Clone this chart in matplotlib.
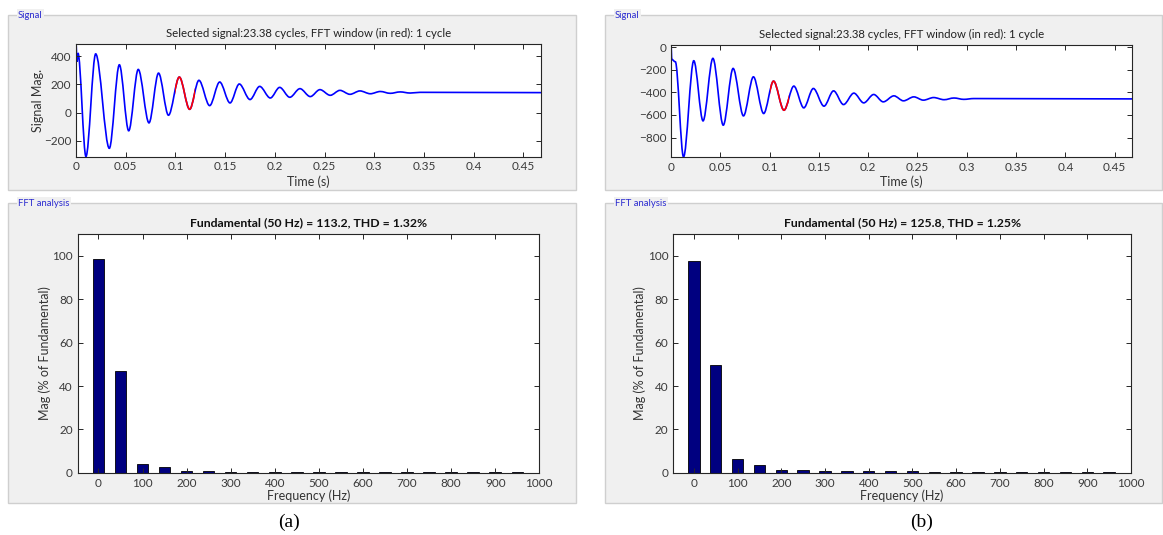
import matplotlib
matplotlib.use('Agg')
import matplotlib.pyplot as plt
import numpy as np
from matplotlib.path import Path
from matplotlib.patches import PathPatch, Rectangle

plt.rcParams['font.family'] = ['Lato', 'DejaVu Sans']

W, H = 1163, 535

# signal (a): peaks / troughs (time s, value)
t_a = [0, 0.001, 0.002, 0.0100, 0.0198, 0.0335, 0.0436, 0.0530, 0.0626, 0.0734,
       0.0830, 0.0930, 0.1039, 0.1143, 0.1236, 0.1344, 0.1445, 0.1549, 0.1642,
       0.1750, 0.1847, 0.1954, 0.2048, 0.2150, 0.2252, 0.2356, 0.2453, 0.2557,
       0.2654, 0.2755, 0.2855, 0.296, 0.306, 0.316, 0.326, 0.336, 0.346, 0.4676]
v_a = [485, 360, 420, -311, 415, -253, 338, -129, 305, -73,
       279, -19, 251, 23, 228, 49, 216, 68, 202,
       92, 185, 103, 178, 108, 169, 113, 162, 122,
       157, 129, 153, 133, 149, 136, 146, 138, 143, 141]

# signal (b)
t_b = [0, 0.0008, 0.0044, 0.0127, 0.0231, 0.0325, 0.0425, 0.0530, 0.0630, 0.0735,
       0.0836, 0.0940, 0.1040, 0.1146, 0.1246, 0.1347, 0.1444, 0.1552, 0.1649,
       0.1750, 0.1855, 0.1955, 0.2056, 0.2153, 0.2261, 0.2358, 0.2463, 0.2560,
       0.2664, 0.277, 0.287, 0.297, 0.307, 0.4676]
v_b = [18, -110, -130, -971, -121, -652, -100, -690, -189, -608,
       -263, -587, -301, -558, -345, -537, -366, -522, -387,
       -508, -407, -493, -419, -484, -431, -475, -440, -469,
       -446, -465, -450, -462, -455, -458]

fft_window = (0.10, 0.12)
t_end = 0.4676

harmonics = [0, 50, 100, 150, 200, 250, 300, 350, 400, 450,
             500, 550, 600, 650, 700, 750, 800, 850, 900, 950]
mag_a = [98.6, 46.8, 4.2, 2.4, 1.0, 0.9, 0.5, 0.3, 0.5, 0.3,
         0.5, 0.3, 0.4, 0.3, 0.4, 0.3, 0.4, 0.3, 0.4, 0.3]
mag_b = [97.7, 49.5, 6.4, 3.4, 1.4, 1.4, 1.0, 0.9, 1.0, 0.9,
         1.0, 0.5, 0.5, 0.5, 0.5, 0.5, 0.5, 0.5, 0.5, 0.5]

sig_title = 'Selected signal:23.38 cycles, FFT window (in red): 1 cycle'
fft_title_a = 'Fundamental (50 Hz) = 113.2, THD = 1.32%'
fft_title_b = 'Fundamental (50 Hz) = 125.8, THD = 1.25%'


def box(x0, y0, x1, y1):
    return [x0 / W, 1 - y1 / H, (x1 - x0) / W, (y1 - y0) / H]


def smooth_path(t, v):
    # cubic segments with flat tangents at each peak / trough
    verts = [(t[0], v[0])]
    codes = [Path.MOVETO]
    for i in range(1, len(t)):
        dt = t[i] - t[i - 1]
        verts += [(t[i - 1] + dt / 3, v[i - 1]), (t[i] - dt / 3, v[i]), (t[i], v[i])]
        codes += [Path.CURVE4] * 3
    return Path(verts, codes)


def style_axes(ax):
    ax.set_facecolor('white')
    ax.tick_params(direction='in', top=True, right=True, length=3.5, width=0.7,
                   labelsize=8.5, labelcolor='#3a3a3a', color='#262626')
    for s in ax.spines.values():
        s.set_color('#262626')
        s.set_linewidth(0.8)


def panel(fig, x0, y0, x1, y1, label):
    r = Rectangle((x0 / W, 1 - y1 / H), (x1 - x0) / W, (y1 - y0) / H,
                  transform=fig.transFigure, facecolor='#f0f0f0',
                  edgecolor='#cfcfcf', lw=1.0, zorder=-5)
    fig.patches.append(r)
    fig.text((x0 + 10) / W, 1 - y0 / H, label, fontsize=6.8, color='#2a2ad0',
             va='center', ha='left',
             bbox=dict(facecolor='#f0f0f0', edgecolor='none', pad=1.0))


def signal_plot(ax, t, v, ylim, yticks, ylabel):
    path = smooth_path(t, v)
    ax.add_patch(PathPatch(path, fill=False, edgecolor='blue', lw=1.2))
    red = PathPatch(path, fill=False, edgecolor='red', lw=1.2)
    clip = Rectangle((fft_window[0], ylim[0]), fft_window[1] - fft_window[0],
                     ylim[1] - ylim[0], transform=ax.transData)
    ax.add_patch(red)
    red.set_clip_path(clip)
    ax.set_xlim(0, t_end)
    ax.set_ylim(*ylim)
    ax.set_xticks(np.arange(0, 0.46, 0.05))
    ax.set_xticklabels(['0', '0.05', '0.1', '0.15', '0.2', '0.25', '0.3', '0.35', '0.4', '0.45'])
    ax.set_yticks(yticks)
    ax.set_title(sig_title, fontsize=8.2, color='#222222', pad=5)
    ax.set_xlabel('Time (s)', fontsize=9, color='#333333', labelpad=2)
    if ylabel:
        ax.set_ylabel(ylabel, fontsize=9, color='#333333', labelpad=0)
    style_axes(ax)


def fft_plot(ax, mags, title):
    ax.bar(harmonics, mags, width=26, color='#000080', edgecolor='black', lw=0.6)
    ax.set_xlim(-47, 1000)
    ax.set_ylim(0, 110)
    ax.set_xticks(np.arange(0, 1001, 100))
    ax.set_yticks(np.arange(0, 101, 20))
    ax.set_title(title, fontsize=8.8, fontweight='bold', color='#111111', pad=6)
    ax.set_xlabel('Frequency (Hz)', fontsize=9, color='#333333', labelpad=1)
    ax.set_ylabel('Mag (% of Fundamental)', fontsize=9, color='#333333', labelpad=1)
    style_axes(ax)


fig = plt.figure(figsize=(W / 100, H / 100), dpi=100)
fig.patch.set_facecolor('white')

panel(fig, 8, 15, 576, 190, 'Signal')
panel(fig, 8, 203, 576, 503, 'FFT analysis')
panel(fig, 605, 15, 1162, 190, 'Signal')
panel(fig, 605, 203, 1162, 503, 'FFT analysis')

ax1 = fig.add_axes(box(76, 44, 541, 156.5))
signal_plot(ax1, t_a, v_a, (-311, 485), [-200, 0, 200, 400], 'Signal Mag.')

ax2 = fig.add_axes(box(671, 45, 1132, 157))
signal_plot(ax2, t_b, v_b, (-971, 18), [-800, -600, -400, -200, 0], None)

ax3 = fig.add_axes(box(77.7, 234.3, 539.3, 472.7))
fft_plot(ax3, mag_a, fft_title_a)

ax4 = fig.add_axes(box(673.3, 234.3, 1131, 472.7))
fft_plot(ax4, mag_b, fft_title_b)

fig.text(289 / W, 1 - 522 / H, '(a)', fontsize=14, family=['Liberation Serif'],
         ha='center', va='center')
fig.text(922 / W, 1 - 522 / H, '(b)', fontsize=14, family=['Liberation Serif'],
         ha='center', va='center')

fig.savefig('out.png', dpi=100)
